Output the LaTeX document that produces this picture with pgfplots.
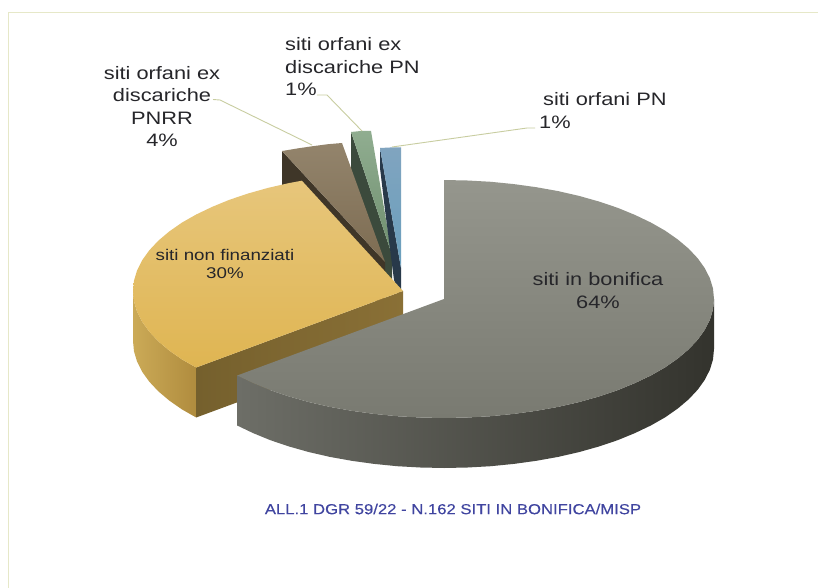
\documentclass[border=0pt]{standalone}
\usepackage{pgfplots}
\pgfplotsset{compat=1.18}
\usepackage{fontspec}
\setmainfont[FakeStretch=1.21]{Liberation Sans}
\newfontfamily\captionfont[FakeStretch=1.15,FakeBold=0.25]{Liberation Sans}
\definecolor{framec}{HTML}{E6E8C8}
\definecolor{leader}{HTML}{C8CDA0}
\definecolor{inkc}{HTML}{26262A}
\definecolor{titlec}{HTML}{4045A0}
\definecolor{grayA}{HTML}{95968D}
\definecolor{grayB}{HTML}{797A71}
\definecolor{graySideA}{HTML}{6D6E67}
\definecolor{graySideB}{HTML}{33332D}
\definecolor{yelA}{HTML}{E7C67B}
\definecolor{yelB}{HTML}{DFB552}
\definecolor{yelSideA}{HTML}{CBAA57}
\definecolor{yelSideB}{HTML}{B08C3E}
\definecolor{yelWallA}{HTML}{75602D}
\definecolor{yelWallB}{HTML}{8A7036}
\definecolor{brownA}{HTML}{93846C}
\definecolor{brownB}{HTML}{7D6C52}
\definecolor{brownWall}{HTML}{3F3628}
\definecolor{greenA}{HTML}{90AD90}
\definecolor{greenB}{HTML}{6F8F6F}
\definecolor{greenWall}{HTML}{3B4A3C}
\definecolor{blueA}{HTML}{80A4BF}
\definecolor{blueB}{HTML}{6A9FBD}
\definecolor{blueWall}{HTML}{28394A}
\newcommand{\lab}[4]{\node[inner sep=0pt,anchor=#1,text=inkc,font=\fontsize{#2}{#2}\selectfont] at (axis cs:#3) {#4};}
\begin{document}
\begin{tikzpicture}
\path[use as bounding box] (0,0) rectangle (818pt,588pt);
\begin{axis}[
  at={(0,0)},anchor=south west,
  scale only axis,width=818pt,height=588pt,
  xmin=0,xmax=818,ymin=0,ymax=588,y dir=reverse,
  hide axis,clip=true,
  every axis plot/.append style={forget plot,no markers,draw=none}
]
% sheet and its frame
\addplot[fill=white] coordinates {(0,0)(818,0)(818,588)(0,588)} --cycle;
\addplot[draw=framec,line width=1.2pt] coordinates {(8.5,588)(8.5,12.5)(818,12.5)};

% siti orfani ex discariche PN, 1%
\addplot[fill=greenWall] coordinates {(351,132)(351,182)(392,295)(392,255)} --cycle;
\addplot[top color=greenA,bottom color=greenB] coordinates {(351,132)(361,131)(371,131)(392,255)} --cycle;

% siti orfani ex discariche PNRR, 4%
\addplot[fill=brownWall] coordinates {(282,151)(282,201)(385,312)(385,262)} --cycle;
\addplot[top color=brownA,bottom color=brownB] coordinates {(282,151)(297,148.5)(312,146.3)(327,144.3)(342,143)(385,262)} --cycle;

% siti orfani PN, 1%
\addplot[fill=blueWall] coordinates {(380,148)(380,168)(385,210)(394,280)(401,300)(401,268)} --cycle;
\addplot[top color=blueA,bottom color=blueB] coordinates {(380,148)(390,147.5)(401,147.5)(401,268)} --cycle;

% siti non finanziati, 30%
\addplot[left color=yelWallA,right color=yelWallB] coordinates {(196.2,367.5)(403,291)(403,341)(196.2,417.5)} --cycle;
\addplot[left color=yelSideA,right color=yelSideB] coordinates {
 (133,291)(134,301.4)(137.1,311.7)(142.2,321.8)(149.3,331.7)(158.3,341.3)(169.2,350.5)(181.8,359.3)(196.2,367.5)
 (196.2,417.5)(181.8,409.3)(169.2,400.5)(158.3,391.3)(149.3,381.7)(142.2,371.8)(137.1,361.7)(134,351.4)(133,341)} --cycle;
\addplot[top color=yelA,bottom color=yelB] coordinates {
 (403,291)(196.2,367.5)(181.8,359.3)(169.2,350.5)(158.3,341.3)(149.3,331.7)(142.2,321.8)(137.1,311.7)(134,301.4)(133,291)
 (134,280.6)(137.1,270.3)(142.2,260.2)(149.3,250.3)(158.3,240.7)(169.2,231.5)(181.8,222.7)(196.2,214.5)(212.1,206.9)
 (229.4,199.8)(248.1,193.5)(268,187.9)(288.9,183.1)(301.9,180.7)} --cycle;

% siti in bonifica, 64%
\addplot[left color=graySideA,right color=graySideB] coordinates {
 (714,299)(713,309.4)(709.9,319.7)(704.8,329.8)(697.7,339.7)(688.7,349.3)(677.8,358.5)(665.2,367.3)(650.8,375.5)
 (634.9,383.1)(617.6,390.2)(598.9,396.5)(579,402.1)(558.1,406.9)(536.3,410.8)(513.9,413.9)(490.9,416.2)(467.5,417.5)
 (444,418)(420.5,417.5)(397.1,416.2)(374.1,413.9)(351.7,410.8)(329.9,406.9)(309,402.1)(289.1,396.5)(270.4,390.2)
 (253.1,383.1)(237.2,375.5)
 (237.2,425.5)(253.1,433.1)(270.4,440.2)(289.1,446.5)(309,452.1)(329.9,456.9)(351.7,460.8)(374.1,463.9)(397.1,466.2)
 (420.5,467.5)(444,468)(467.5,467.5)(490.9,466.2)(513.9,463.9)(536.3,460.8)(558.1,456.9)(579,452.1)(598.9,446.5)
 (617.6,440.2)(634.9,433.1)(650.8,425.5)(665.2,417.3)(677.8,408.5)(688.7,399.3)(697.7,389.7)(704.8,379.8)(709.9,369.7)
 (713,359.4)(714,349)} --cycle;
\addplot[top color=grayA,bottom color=grayB] coordinates {
 (444,299)(444,180)(467.5,180.5)(490.9,181.8)(513.9,184.1)(536.3,187.2)(558.1,191.1)(579,195.9)(598.9,201.5)(617.6,207.8)
 (634.9,214.9)(650.8,222.5)(665.2,230.7)(677.8,239.5)(688.7,248.7)(697.7,258.3)(704.8,268.2)(709.9,278.3)(713,288.6)
 (714,299)(713,309.4)(709.9,319.7)(704.8,329.8)(697.7,339.7)(688.7,349.3)(677.8,358.5)(665.2,367.3)(650.8,375.5)
 (634.9,383.1)(617.6,390.2)(598.9,396.5)(579,402.1)(558.1,406.9)(536.3,410.8)(513.9,413.9)(490.9,416.2)(467.5,417.5)
 (444,418)(420.5,417.5)(397.1,416.2)(374.1,413.9)(351.7,410.8)(329.9,406.9)(309,402.1)(289.1,396.5)(270.4,390.2)
 (253.1,383.1)(237.2,375.5)} --cycle;

% leader lines
\addplot[draw=leader,line width=0.9pt] coordinates {(213,99.5)(220,100)(312,145)};
\addplot[draw=leader,line width=0.9pt] coordinates {(317,95)(327,95)(362,131)};
\addplot[draw=leader,line width=0.9pt] coordinates {(535,128)(527,128)(392,147)};

% labels
\lab{center}{18}{162,73}{siti orfani ex}
\lab{center}{18}{162,95.5}{discariche}
\lab{center}{18}{162,118}{PNRR}
\lab{center}{18}{162,140.5}{4\%}
\lab{west}{18}{285,44.5}{siti orfani ex}
\lab{west}{18}{285,67}{discariche PN}
\lab{west}{18}{285,89.5}{1\%}
\lab{west}{18}{543,99.5}{siti orfani PN}
\lab{west}{18}{539,122}{1\%}
\lab{center}{15.5}{225,254.5}{siti non finanziati}
\lab{center}{15.5}{225,273.5}{30\%}
\lab{center}{18}{598,279.5}{siti in bonifica}
\lab{center}{18}{598,302}{64\%}
\node[inner sep=0pt,anchor=center,text=titlec,font=\captionfont\fontsize{14.5}{14.5}\selectfont] at (axis cs:453,509) {ALL.1 DGR 59/22 - N.162 SITI IN BONIFICA/MISP};
\end{axis}
\end{tikzpicture}
\end{document}
